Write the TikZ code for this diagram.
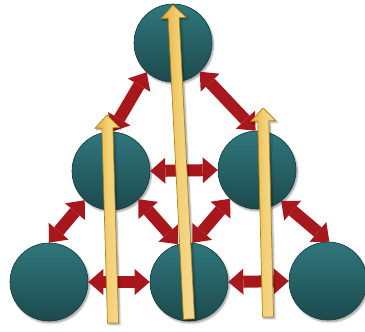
\documentclass[tikz,border=0pt]{standalone}
\usepackage{tikz}
\usetikzlibrary{arrows.meta,calc,shadows.blur}
\definecolor{tealtop}{HTML}{2F777C}
\definecolor{tealbot}{HTML}{1C4A4D}
\definecolor{tealrim}{HTML}{153A3C}
\definecolor{linkred}{HTML}{A8171B}
\definecolor{goldA}{HTML}{E4AE3E}
\definecolor{goldM}{HTML}{F2CF72}
\definecolor{goldB}{HTML}{F6DB94}
\definecolor{goldrim}{HTML}{B08418}

\begin{document}
\begin{tikzpicture}[x=1pt,y=1pt,
    ball/.style={circle,minimum size=78pt,inner sep=0pt,draw=tealrim,line width=0.6pt,
      top color=tealtop,bottom color=tealbot,
      blur shadow={shadow xshift=1.5pt,shadow yshift=-2pt,shadow blur steps=6}},
    link/.style={draw=linkred,line width=12pt,
      {Triangle[width=26pt,length=15pt,line width=0pt]}-{Triangle[width=26pt,length=15pt,line width=0pt]}},
    goldarrow/.style={draw=goldrim,line width=0.7pt,left color=goldA,right color=goldB,middle color=goldM,
      blur shadow={shadow xshift=1.5pt,shadow yshift=-1.5pt,shadow blur steps=5}}]
  \useasboundingbox (0,0) rectangle (365,332);

  % the six balls
  \node[ball] (top) at (173,289) {};
  \node[ball] (ml) at (111,161) {};
  \node[ball] (mr) at (257,162) {};
  \node[ball] (bl) at (49,50) {};
  \node[ball] (bm) at (189,50) {};
  \node[ball] (br) at (328,51) {};

  % red two-way links
  \draw[link] (ml.89) -- (top.228);
  \draw[link] (top.313) -- (mr.92);
  \draw[link] (ml.0) -- (mr.180);
  \draw[link] (ml.228) -- (bl.90);
  \draw[link] (ml.314) -- (bm.106);
  \draw[link] (mr.227) -- (bm.85);
  \draw[link] (mr.308) -- (br.88);
  \draw[link] (bl.0) -- (bm.180);
  \draw[link] (bm.0) -- (br.180);

  % gold upward arrows
  \coordinate (lt) at (113,9);  \coordinate (lp) at (107,217);
  \coordinate (mt) at (189,13); \coordinate (mp) at (173,327);
  \coordinate (rt) at (268,15); \coordinate (rp) at (263,224);
  \foreach \t/\p in {lt/lp,mt/mp,rt/rp}{
    \coordinate (hb) at ($(\p)!13pt!(\t)$);
    \shadedraw[goldarrow] ($(\t)!5.5pt!90:(\p)$) -- ($(hb)!5.5pt!90:(\p)$)
      -- ($(hb)!12.5pt!90:(\p)$) -- (\p) -- ($(hb)!12.5pt!-90:(\p)$)
      -- ($(hb)!5.5pt!-90:(\p)$) -- ($(\t)!5.5pt!-90:(\p)$) -- cycle;
  }
\end{tikzpicture}
\end{document}
